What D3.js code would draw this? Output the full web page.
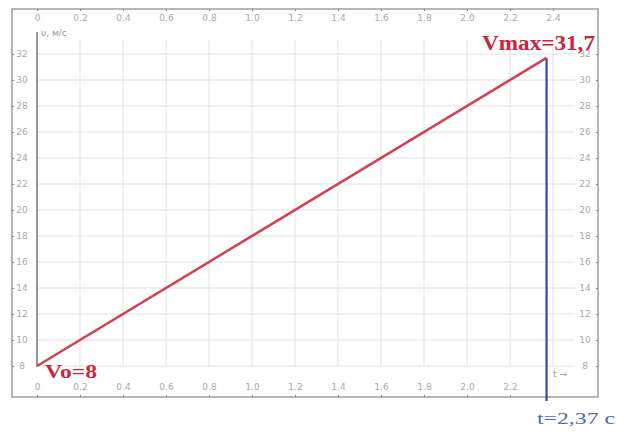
<!DOCTYPE html>
<html><head><meta charset="utf-8">
<script src="https://cdn.jsdelivr.net/npm/d3@7/dist/d3.min.js"></script>
<style>
body{margin:0;background:#fff;}
svg{display:block;}
.tick text{fill:#aaa;font-family:"DejaVu Sans",sans-serif;font-size:9px;}
.tick line{stroke:#888;}
.domain{stroke:#888;}
</style></head>
<body>
<svg id="c" width="624" height="442"></svg>
<script>
const lineT = [0, 2.37];
const lineV = [8, 31.7];
const xTicksTop = [0,0.2,0.4,0.6,0.8,1.0,1.2,1.4,1.6,1.8,2.0,2.2,2.4];
const xTicksBottom = [0,0.2,0.4,0.6,0.8,1.0,1.2,1.4,1.6,1.8,2.0,2.2];
const yTicks = [8,10,12,14,16,18,20,22,24,26,28,30,32];
const labelVmax = "Vmax=31,7";
const labelV0 = "Vo=8";
const labelT = "t=2,37 c";
const axisLabelY = "υ, м/с";
const axisLabelX = "t →";

const svg = d3.select("#c");
const x = d3.scaleLinear().domain([0,2.4]).range([37,553]);
const y = d3.scaleLinear().domain([8,32]).range([366,54]);
const fmt = d => d===0 ? "0" : d3.format(".1f")(d);

// grid
svg.append("g").selectAll("line").data(xTicksTop).join("line")
  .attr("x1",d=>x(d)).attr("x2",d=>x(d)).attr("y1",40).attr("y2",367)
  .attr("stroke","#e0e0e0").attr("stroke-width",1);
svg.append("g").selectAll("line").data(yTicks).join("line")
  .attr("x1",37).attr("x2",575).attr("y1",d=>y(d)).attr("y2",d=>y(d))
  .attr("stroke","#e0e0e0").attr("stroke-width",1);

// frame
svg.append("rect").attr("x",12).attr("y",9).attr("width",586).attr("height",388)
  .attr("fill","none").attr("stroke","#888").attr("stroke-width",1.2);

// axes on frame
const axTop = svg.append("g").attr("transform","translate(0,9)")
  .call(d3.axisBottom(x).tickValues(xTicksTop).tickFormat(fmt).tickSize(2).tickPadding(4));
axTop.select(".domain").remove();
const axBot = svg.append("g").attr("transform","translate(0,397)")
  .call(d3.axisTop(x).tickValues(xTicksBottom).tickFormat(fmt).tickSize(2).tickPadding(5));
axBot.select(".domain").remove();
const axLeft = svg.append("g").attr("transform","translate(12,0)")
  .call(d3.axisRight(y).tickValues(yTicks).tickSize(2).tickPadding(4));
axLeft.select(".domain").remove();
axLeft.selectAll("text").attr("text-anchor","middle").attr("x",10);
const axRight = svg.append("g").attr("transform","translate(598,0)")
  .call(d3.axisLeft(y).tickValues(yTicks).tickSize(2).tickPadding(4));
axRight.select(".domain").remove();
axRight.selectAll("text").attr("text-anchor","middle").attr("x",-13);

// left axis line
svg.append("line").attr("x1",x(0)).attr("x2",x(0)).attr("y1",32).attr("y2",367)
  .attr("stroke","#666").attr("stroke-width",1.3);

svg.append("text").attr("x",41).attr("y",36).text(axisLabelY)
  .attr("fill","#999").attr("font-family","DejaVu Sans, sans-serif").attr("font-size",9);
svg.append("text").attr("x",553).attr("y",377).text(axisLabelX)
  .attr("fill","#999").attr("font-family","DejaVu Sans, sans-serif").attr("font-size",9);

// blue vertical line
svg.append("line").attr("x1",x(lineT[1])).attr("x2",x(lineT[1]))
  .attr("y1",y(lineV[1])).attr("y2",401)
  .attr("stroke","#3a44a8").attr("stroke-width",2.2);

// red line
const pts = lineT.map((t,i)=>[t,lineV[i]]);
svg.append("path").datum(pts)
  .attr("d",d3.line().x(d=>x(d[0])).y(d=>y(d[1])))
  .attr("stroke","#d44050").attr("stroke-width",2.5).attr("fill","none");

// labels
svg.append("text").attr("x",482).attr("y",50).text(labelVmax)
  .attr("fill","#c8283c").attr("font-family","Liberation Serif, serif").attr("font-weight","bold")
  .attr("font-size",20).attr("textLength",113).attr("lengthAdjust","spacingAndGlyphs");
svg.append("text").attr("x",45).attr("y",378).text(labelV0)
  .attr("fill","#c8283c").attr("font-family","Liberation Serif, serif").attr("font-weight","bold")
  .attr("font-size",19).attr("textLength",52).attr("lengthAdjust","spacingAndGlyphs");
svg.append("text").attr("x",537).attr("y",424).text(labelT)
  .attr("fill","#5a64c4").attr("font-family","Liberation Serif, serif")
  .attr("font-size",17).attr("textLength",78).attr("lengthAdjust","spacingAndGlyphs");
</script>
</body></html>
